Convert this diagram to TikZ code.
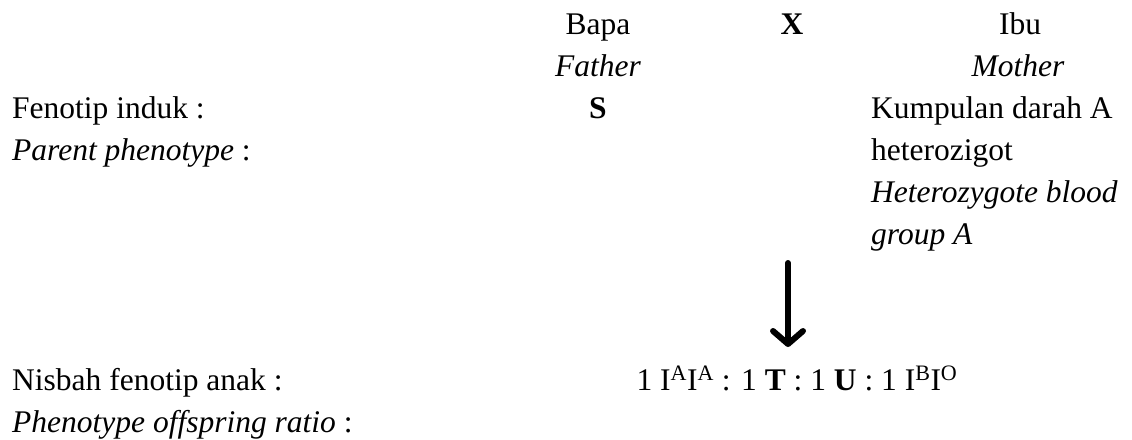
\documentclass[tikz,border=0pt]{standalone}
\usepackage{fontspec}
\setmainfont{Liberation Serif}
\usetikzlibrary{arrows.meta}

\begin{document}
\begin{tikzpicture}[x=1pt,y=-1pt,
  every node/.style={inner sep=0pt,font=\fontsize{31.5}{40}\selectfont},
  lbl/.style={anchor=base west},
  mid/.style={anchor=base}]
  \useasboundingbox (0,0) rectangle (1132,439);

  \node[mid] (bapa) at (598,34) {Bapa};
  \node[mid] (father) at (598,76) {\itshape Father};
  \node[mid] (cross) at (792,34) {\bfseries X};
  \node[mid] (ibu) at (1020,34) {Ibu};
  \node[mid] (mother) at (1018,76) {\itshape Mother};

  \node[lbl] (fenotip) at (12,118) {Fenotip induk :};
  \node[lbl] (parent) at (12,160) {\itshape Parent phenotype\/\upshape\ :};
  \node[mid] (s) at (598,118) {\bfseries S};
  \node[lbl] (kumpulan) at (871,118) {Kumpulan darah A};
  \node[lbl] (hetero) at (871,160) {heterozigot};
  \node[lbl] (heteroen) at (871,202) {\itshape Heterozygote blood};
  \node[lbl] (group) at (871,244) {\itshape group A};

  \node[lbl] (nisbah) at (12,390) {Nisbah fenotip anak :};
  \node[lbl] (ratio) at (12,432) {\itshape Phenotype offspring ratio\/\upshape\ :};
  \node[mid] (anak) at (797,390) {1 I\textsuperscript{A}I\textsuperscript{A} : 1 \textbf{T} : 1 \textbf{U} : 1 I\textsuperscript{B}I\textsuperscript{O}};

  \coordinate (atop) at (788,263);
  \coordinate (abot) at (788,347);
  \draw[line width=6pt,line cap=round,
    -{Straight Barb[length=13pt,width=30pt,line cap=round,line join=round]}]
    (atop) -- (abot);
\end{tikzpicture}
\end{document}
